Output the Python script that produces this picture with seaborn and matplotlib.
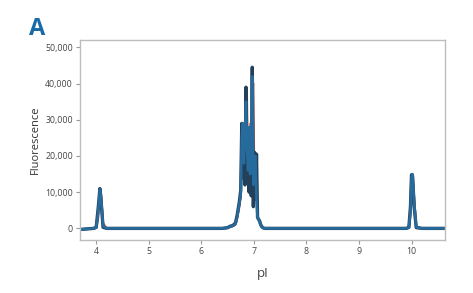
import matplotlib
matplotlib.use("Agg")
import matplotlib.pyplot as plt
import seaborn as sns
import pandas as pd
from matplotlib.ticker import FuncFormatter

sns.set_theme(style="white")
plt.rcParams['font.family'] = ['Open Sans', 'DejaVu Sans']

# pI grid shared by the traces
pI = [3.69, 3.95, 4.00, 4.04, 4.07, 4.09, 4.13, 4.20, 5.0, 6.0, 6.40, 6.50, 6.55,
      6.60, 6.65, 6.68, 6.72, 6.75, 6.77, 6.79, 6.81, 6.83, 6.85, 6.87, 6.89, 6.91,
      6.93, 6.95, 6.97, 6.99, 7.01, 7.03, 7.05, 7.07, 7.09, 7.11, 7.13, 7.16, 7.20,
      7.30, 8.0, 9.0, 9.90, 9.95, 9.98, 10.00, 10.02, 10.05, 10.09, 10.20, 10.63]

trace_dark = [-300, 0, 300, 6000, 11000, 8000, 300, 0, 0, 0, 0, 200, 600,
              800, 1500, 3500, 7000, 10500, 29000, 14000, 28000, 12000, 39000, 15000, 25000, 10000,
              26000, 9000, 44500, 6000, 21000, 8000, 20500, 3000, 2500, 2000, 1000, 300, 0,
              0, 0, 0, 0, 300, 6000, 14800, 14500, 6000, 200, 0, 0]

trace_blue = [-300, 0, 200, 5000, 10800, 9000, 600, 0, 0, 0, 0, 150, 500,
              700, 1200, 3000, 6500, 9500, 25000, 29000, 18000, 27000, 35000, 22000, 16000, 28000,
              15000, 28000, 42000, 12000, 19000, 20000, 8000, 3000, 2500, 1800, 900, 250, 0,
              0, 0, 0, 0, 200, 5000, 14000, 15000, 7000, 300, 0, 0]

trace_red = [-300, 0, 100, 3000, 9500, 10500, 1500, 0, 0, 0, 0, 100, 400,
             600, 1000, 2500, 5500, 8500, 20000, 28000, 29000, 25000, 30000, 37000, 17000, 20000,
             29000, 20000, 36000, 40000, 15000, 21000, 12000, 3500, 2600, 2200, 1200, 400, 0,
             0, 0, 0, 0, 100, 3500, 12000, 14500, 9000, 600, 0, 0]

df = pd.concat([
    pd.DataFrame({"pI": pI, "Fluorescence": trace_red, "trace": "r"}),
    pd.DataFrame({"pI": pI, "Fluorescence": trace_dark, "trace": "d"}),
    pd.DataFrame({"pI": pI, "Fluorescence": trace_blue, "trace": "b"}),
])

fig = plt.figure(figsize=(4.73, 2.93), dpi=100)
ax = fig.add_axes([0.169, 0.181, 0.771, 0.682])

palette = {"r": "#d9614a", "b": "#276a9c", "d": "#22405a"}
widths = {"r": 1.4, "b": 1.9, "d": 2.4}
for key in ["r", "d", "b"]:
    sns.lineplot(data=df[df.trace == key], x="pI", y="Fluorescence", ax=ax,
                 color=palette[key], linewidth=widths[key], legend=False,
                 estimator=None, sort=False)

ax.set_xlim(3.69, 10.63)
ax.set_ylim(-3200, 52000)
ax.set_xticks([4, 5, 6, 7, 8, 9, 10])
ax.set_yticks([0, 10000, 20000, 30000, 40000, 50000])
ax.yaxis.set_major_formatter(FuncFormatter(lambda v, p: f"{int(v):,}"))

for s in ax.spines.values():
    s.set_color("#bdbdbd")
    s.set_linewidth(1.0)
ax.tick_params(axis="both", which="major", length=3, width=0.8, color="#999999",
               labelsize=6.3, labelcolor="#444444", pad=2, bottom=True, left=True)

ax.set_xlabel("pI", fontsize=9.5, color="#444444", labelpad=8)
ax.set_ylabel("Fluorescence", fontsize=8, color="#333333", labelpad=3)

fig.text(0.078, 0.881, "A", fontsize=17, fontweight="bold", color="#1a6aa8",
         ha="center", va="baseline")

fig.savefig("out.png", dpi=100)
